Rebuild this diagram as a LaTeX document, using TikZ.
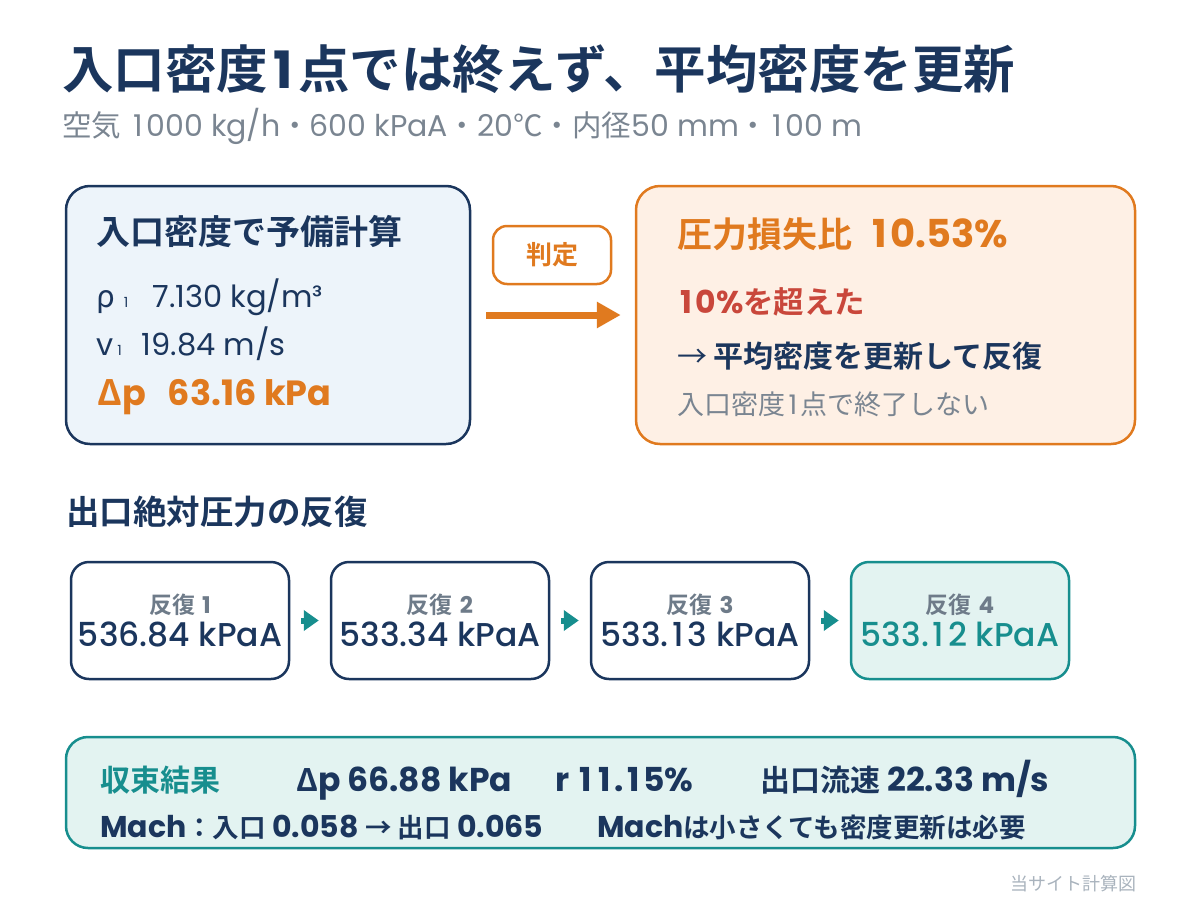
\documentclass[tikz,border=0pt]{standalone}
\usepackage{fontspec}
\setmainfont{Poppins}
\newfontfamily\medium{Poppins Medium}
\newfontfamily\jpfam{Noto Sans CJK JP}[BoldFont={* Bold}]
\usetikzlibrary{arrows.meta,positioning}

\definecolor{ink}{HTML}{1B365D}
\definecolor{mute}{HTML}{7A8591}
\definecolor{labgrey}{HTML}{6E7B89}
\definecolor{faint}{HTML}{A9B3BD}
\definecolor{amber}{HTML}{E07A1F}
\definecolor{brick}{HTML}{C9473B}
\definecolor{tealc}{HTML}{178E8E}
\definecolor{iceblue}{HTML}{EDF4FA}
\definecolor{peach}{HTML}{FEF0E5}
\definecolor{mint}{HTML}{E3F3F1}

\newcommand\fsz[1]{\fontsize{#1}{#1}\selectfont}
% japanese run, optionally at its own size
\newcommand\jp[2][]{{\jpfam\ifx\relax#1\relax\else\fsz{#1}\fi#2}}
% a one as wide as the other figures
\newcommand\one{\makebox[0.58em]{1}}

\begin{document}
\begin{tikzpicture}[x=1pt, y=-1pt, node distance=260pt, on grid,
    box/.style={draw, rounded corners=24pt, line width=2.5pt, inner sep=0pt},
    txt/.style={anchor=base west, inner sep=0pt},
    iter/.style={draw=ink, fill=white, rounded corners=18pt, line width=2.5pt,
                 minimum width=218pt, minimum height=117pt, align=center, inner sep=0pt},
    bigarrow/.style={color=amber, line width=7pt, -{Triangle[length=24pt,width=25pt]},
                     shorten <=15pt, shorten >=14pt},
    hop/.style={color=tealc, line width=6pt, -{Triangle[length=15pt,width=20pt]},
                shorten <=11pt, shorten >=11pt}]
    \useasboundingbox (0,0) rectangle (1200,900);

    % title
    \node[txt, text=ink, font=\bfseries\fsz{51.5}] (title) at (62,88) {\jp{入口密度}\one\jp{点では終えず、平均密度を更新}};
    \node[txt, text=mute, font=\fsz{30}] (subtitle) at (62,136)
        {\jp[29.5]{空気} \one000 kg/h\jp[29.5]{・}600 kPaA\jp[29.5]{・}20\jp[29.5]{℃・内径}50 mm\jp[29.5]{・}\one00 m};

    % first pass with inlet density
    \node[box, draw=ink, fill=iceblue, minimum width=404pt, minimum height=258pt] (pre) at (268,315) {};
    \node[txt, text=ink, font=\bfseries\fsz{34}] (pre_head) at (96,244) {\jp{入口密度で予備計算}};
    \node[txt, text=ink, font=\fsz{30.5}] (pre_rho) at (96,307) {\jp{ρ}\hspace{9pt}{\fsz{14}1}\hspace{24pt}7.130 kg/m³};
    \node[txt, text=ink, font=\fsz{30.5}] (pre_v) at (96,355) {v\hspace{4pt}{\fsz{14}1}\hspace{20pt}19.84 m/s};
    \node[txt, text=amber, font=\bfseries\fsz{35}] (pre_dp) at (97,405) {\jp{Δ}p\hspace{22pt}63.16 kPa};

    % check
    \node[box, draw=amber, fill=white, rounded corners=14pt, minimum width=118pt, minimum height=58pt,
          text=amber, font=\bfseries\fsz{26}] (judge) at (552,255) {\jp{判定}};

    % loss ratio
    \node[box, draw=amber, fill=peach, minimum width=499pt, minimum height=258pt] (ratio) at (885.5,315) {};
    \node[txt, text=amber, font=\bfseries\fsz{38.5}] (ratio_head) at (677,247) {\jp[35]{圧力損失比}\hspace{16pt}\one0.53\%};
    \node[txt, text=brick, font=\bfseries\fsz{31.5}] (ratio_over) at (677,313) {\one0\%\jp[30.5]{を超えた}};
    \node[txt, text=ink, font=\bfseries\fsz{30}] (ratio_next) at (677,367) {\jp{\mdseries →} \jp{平均密度を更新して反復}};
    \node[txt, text=mute, font=\fsz{27}] (ratio_note) at (677,414) {\jp{入口密度}\one\jp{点で終了しない}};

    \draw[bigarrow] (pre) edge (ratio);

    % outlet pressure iterations
    \node[txt, text=ink, font=\bfseries\fsz{33.5}] (loop_head) at (66,524) {\jp{出口絶対圧力の反復}};

    \node[iter] (it_1) at (180,620.5) {{\color{labgrey}\bfseries\fsz{23}\jp{反復}\hspace{7pt}1}\\[6pt]{\color{ink}\medium\fsz{33}536.84 kPaA}};
    \node[iter, right=of it_1] (it_2) {{\color{labgrey}\bfseries\fsz{23}\jp{反復}\hspace{7pt}2}\\[6pt]{\color{ink}\medium\fsz{33}533.34 kPaA}};
    \node[iter, right=of it_2] (it_3) {{\color{labgrey}\bfseries\fsz{23}\jp{反復}\hspace{7pt}3}\\[6pt]{\color{ink}\medium\fsz{33}533.\one3 kPaA}};
    \node[iter, right=of it_3, draw=tealc, fill=mint] (it_4) {{\color{labgrey}\bfseries\fsz{23}\jp{反復}\hspace{7pt}4}\\[6pt]{\color{tealc}\medium\fsz{33}533.\one2 kPaA}};

    \draw[hop]
        (it_1) edge (it_2)
        (it_2) edge (it_3)
        (it_3) edge (it_4)
        ;

    % converged result
    \node[box, draw=tealc, fill=mint, rounded corners=22pt, minimum width=1069pt, minimum height=111pt] (result) at (600.5,792.5) {};
    \node[txt, text=tealc, font=\bfseries\fsz{30}] (res_tag) at (100,791) {\jp{収束結果}};
    \node[txt, text=ink, font=\bfseries\fsz{33}] (res_dp) at (296,791) {\jp[31]{Δ}p 66.88 kPa};
    \node[txt, text=ink, font=\bfseries\fsz{33}] (res_r) at (555,791) {r \one\one.\one5\%};
    \node[txt, text=ink, font=\bfseries\fsz{33}] (res_v) at (760,791) {\jp[30]{出口流速} 22.33 m/s};
    \node[txt, text=ink, font=\bfseries\fsz{30}] (res_mach) at (100,837) {Mach\jp[26.5]{：入口} 0.058 \jp[26.5]{→ 出口} 0.065};
    \node[txt, text=ink, font=\bfseries\fsz{30}] (res_note) at (597,837) {Mach\jp[26.5]{は小さくても密度更新は必要}};

    \node[txt, text=faint, font=\fsz{18}] (credit) at (1010,890) {\jp{当サイト計算図}};
\end{tikzpicture}
\end{document}
